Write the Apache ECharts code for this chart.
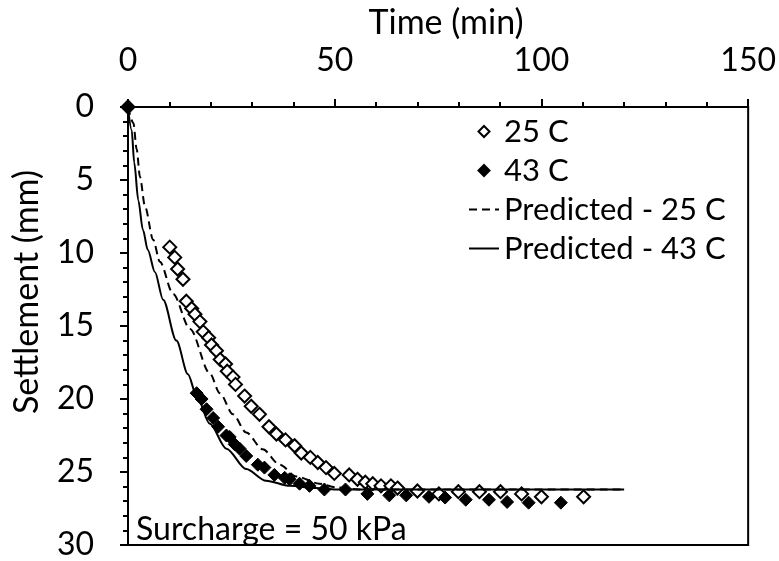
<!DOCTYPE html>
<html>
<head>
<meta charset="utf-8">
<title>Settlement</title>
<script src="https://cdn.jsdelivr.net/npm/echarts@6/dist/echarts.min.js"></script>
<style>
  html, body { margin: 0; padding: 0; background: #fff; }
  #chart { width: 779px; height: 561px; }
</style>
</head>
<body>
<div id="chart"></div>
<script>
// measured 25 C (time min, settlement mm)
const data25 = [
  [0, 0], [10.1, 9.6], [11.3, 10.3], [12.0, 11.1], [13.3, 11.8], [14.1, 13.3], [15.4, 13.8],
  [16.2, 14.2], [17.4, 14.7], [18.2, 15.4], [19.5, 15.8], [20.2, 16.3], [21.4, 16.7],
  [22.3, 17.3], [23.6, 17.6], [24.0, 18.1], [25.4, 18.5], [26.0, 19.0], [28.2, 19.8],
  [29.8, 20.5], [31.8, 21.05], [34.1, 21.9], [35.9, 22.4], [38.1, 22.8], [40.3, 23.2],
  [41.9, 23.7], [44.1, 24.0], [45.9, 24.35], [47.9, 24.7], [49.9, 25.1], [53.5, 25.2],
  [55.5, 25.5], [57.4, 25.7], [59.2, 25.8], [61.2, 25.95], [63.6, 25.95], [65.2, 26.1],
  [70.0, 26.3], [75.2, 26.5], [79.9, 26.35], [85.0, 26.35], [90.1, 26.35], [95.2, 26.5],
  [100.0, 26.7], [110.2, 26.7]
];
// measured 43 C
const data43 = [
  [0, 0], [16.6, 19.6], [17.8, 20.0], [19.0, 20.7], [20.6, 21.3], [21.8, 21.9], [23.8, 22.5],
  [24.6, 22.6], [25.8, 23.1], [27.0, 23.4], [28.6, 23.9], [31.4, 24.5], [33.0, 24.7],
  [35.4, 25.2], [37.9, 25.4], [39.1, 25.5], [41.5, 25.8], [43.9, 25.95], [47.5, 26.2],
  [52.6, 26.2], [57.9, 26.5], [63.2, 26.6], [67.3, 26.6], [72.8, 26.7], [76.7, 26.75],
  [81.7, 26.9], [87.3, 26.9], [91.7, 27.05], [96.9, 27.1], [104.7, 27.1]
];
// predicted curves
const pred25 = [
  [0, 0], [1.3, 1.1], [2.1, 2.9], [2.9, 4.8], [4.1, 6.8], [6.1, 9.1], [7.7, 10.6],
  [10.9, 12.8], [15.0, 15.2], [19.8, 18.25], [22.2, 19.6], [25.4, 21.05], [28.6, 22.3],
  [32.6, 23.45], [36.7, 24.5], [40.7, 25.3], [46.3, 25.8], [50.3, 26.05], [55.9, 26.2],
  [120, 26.2]
];
const pred43 = [
  [0, 0], [0.9, 1.6], [1.5, 3.8], [2.5, 6.4], [3.6, 8.4], [4.8, 9.8], [6.5, 11.3],
  [8.5, 13.2], [11.7, 16.0], [14.5, 18.3], [16.6, 19.8], [19.8, 21.7], [23.8, 23.4],
  [28.6, 24.8], [33.4, 25.6], [39.1, 25.95], [45.5, 26.1], [50.3, 26.2], [120, 26.2]
];
const legendNames = ['25 C', '43 C', 'Predicted - 25 C', 'Predicted - 43 C'];

const FONT = 'Lato';
const DIAMOND = 'path://M6,0 L12,6 L6,12 L0,6 Z';
const noDot = { color: 'transparent', borderColor: 'transparent', borderWidth: 0 };
const chart = echarts.init(document.getElementById('chart'));
chart.setOption({
  animation: false,
  grid: {
    left: 128, top: 107, right: 28, bottom: 15,
    show: true, borderColor: '#000', borderWidth: 2, backgroundColor: 'transparent'
  },
  legend: {
    orient: 'vertical',
    left: 468, top: 116, padding: 0,
    itemWidth: 30, itemHeight: 11, itemGap: 8,
    symbolKeepAspect: true,
    textStyle: { fontFamily: FONT, fontSize: 31, color: '#000' },
    data: [
      { name: legendNames[0], icon: DIAMOND },
      { name: legendNames[1], icon: DIAMOND },
      { name: legendNames[2], itemStyle: noDot },
      { name: legendNames[3], itemStyle: noDot }
    ]
  },
  xAxis: {
    type: 'value', position: 'top', min: 0, max: 150, interval: 50,
    name: 'Time (min)', nameLocation: 'middle', nameGap: 62,
    nameTextStyle: { fontFamily: FONT, fontSize: 34, color: '#000', padding: [0, 0, 0, 16] },
    axisLine: { lineStyle: { color: '#000', width: 2 } },
    axisTick: { length: 8, lineStyle: { color: '#000', width: 2 } },
    minorTick: { show: true, splitNumber: 5, length: 5, lineStyle: { color: '#000', width: 2 } },
    axisLabel: { fontFamily: FONT, fontSize: 32, color: '#000', margin: 30 },
    splitLine: { show: false }
  },
  yAxis: {
    type: 'value', inverse: true, min: 0, max: 30, interval: 5,
    name: 'Settlement (mm)', nameLocation: 'middle', nameGap: 84,
    nameTextStyle: { fontFamily: FONT, fontSize: 34, color: '#000', padding: [0, 0, 0, 68] },
    axisLine: { lineStyle: { color: '#000', width: 2 } },
    axisTick: { length: 8, lineStyle: { color: '#000', width: 2 } },
    minorTick: { show: true, splitNumber: 5, length: 5, lineStyle: { color: '#000', width: 2 } },
    axisLabel: { fontFamily: FONT, fontSize: 32, color: '#000', margin: 34 },
    splitLine: { show: false }
  },
  graphic: [{
    type: 'text', left: 136, top: 514,
    style: { text: 'Surcharge = 50 kPa', font: '32px ' + FONT, fill: '#000' }
  }],
  series: [
    {
      name: legendNames[2], type: 'line', data: pred25, symbol: 'none',
      smooth: 0.3, smoothMonotone: 'x',
      lineStyle: { color: '#000', width: 2, type: [8, 5] }, itemStyle: { color: '#000' }
    },
    {
      name: legendNames[3], type: 'line', data: pred43, symbol: 'none',
      smooth: 0.3, smoothMonotone: 'x',
      lineStyle: { color: '#000', width: 2 }, itemStyle: { color: '#000' }
    },
    {
      name: legendNames[0], type: 'scatter', data: data25, symbol: 'diamond', symbolSize: 13,
      itemStyle: { color: '#fff', borderColor: '#000', borderWidth: 2, opacity: 1 }
    },
    {
      name: legendNames[1], type: 'scatter', data: data43, symbol: 'diamond', symbolSize: 13,
      itemStyle: { color: '#000', borderColor: '#000', borderWidth: 1, opacity: 1 }
    }
  ]
});
</script>
</body>
</html>
